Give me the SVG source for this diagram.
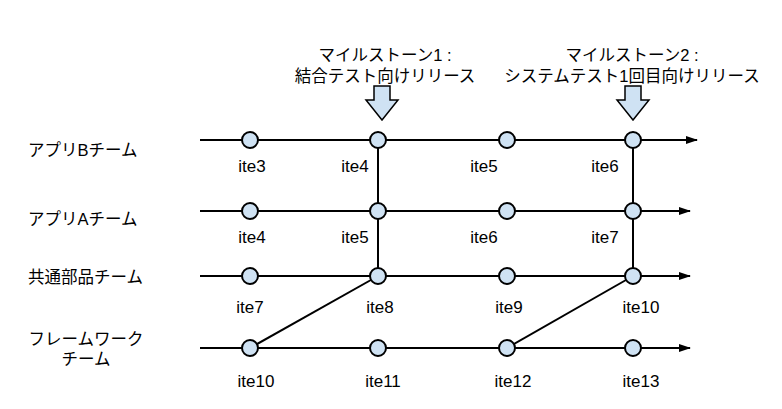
<svg xmlns="http://www.w3.org/2000/svg" width="782" height="409" viewBox="0 0 782 409">
<defs><marker id="ah" markerWidth="12" markerHeight="8" refX="11" refY="4" orient="auto" markerUnits="userSpaceOnUse"><path d="M0,0 L12,4 L0,8 z" fill="#000"/></marker></defs>
<style>
text{font-family:"Liberation Sans","Noto Sans CJK JP",sans-serif;font-size:16.5px;fill:#000}
.i{font-size:17px}
.n{fill:#cfe2f3;stroke:#000;stroke-width:2}
.l{stroke:#000;stroke-width:2;fill:none}
.ar{fill:#cfe2f3;stroke:#000;stroke-width:1.5}
</style>
<rect width="782" height="409" fill="#fff"/>
<g id="connectors">
<line class="l" x1="200" y1="140" x2="697" y2="140" marker-end="url(#ah)"/>
<line class="l" x1="200" y1="211" x2="690" y2="211" marker-end="url(#ah)"/>
<line class="l" x1="200" y1="276" x2="690" y2="276" marker-end="url(#ah)"/>
<line class="l" x1="200" y1="348" x2="690" y2="348" marker-end="url(#ah)"/>
<line class="l" x1="378" y1="140" x2="378" y2="276"/>
<line class="l" x1="633" y1="140" x2="633" y2="276"/>
<line class="l" x1="250" y1="348" x2="378" y2="276"/>
<line class="l" x1="507" y1="348" x2="633" y2="276"/>
</g>
<g id="milestone1"><path class="ar" d="M374,86 H390 V100 H398 L382,120 L366,100 H374 Z"/>
<text x="385" y="61" text-anchor="middle">マイルストーン1 :</text><text x="385" y="82" text-anchor="middle">結合テスト向けリリース</text></g>
<g id="milestone2"><path class="ar" d="M625,86 H641 V100 H649 L633,120 L617,100 H625 Z"/>
<text x="632" y="61" text-anchor="middle">マイルストーン2 :</text><text x="632" y="82" text-anchor="middle">システムテスト1回目向けリリース</text></g>
<g id="teams">
<text x="28" y="156">アプリBチーム</text>
<text x="28" y="225">アプリAチーム</text>
<text x="28" y="283">共通部品チーム</text>
<text x="86" y="345" text-anchor="middle">フレームワーク</text>
<text x="86" y="365" text-anchor="middle">チーム</text>
</g>
<g id="nodes">
<g id="r1"><circle class="n" cx="250" cy="140" r="8"/><circle class="n" cx="378" cy="140" r="8"/><circle class="n" cx="507" cy="140" r="8"/><circle class="n" cx="633" cy="140" r="8"/></g>
<g id="r2"><circle class="n" cx="250" cy="211" r="8"/><circle class="n" cx="378" cy="211" r="8"/><circle class="n" cx="507" cy="211" r="8"/><circle class="n" cx="633" cy="211" r="8"/></g>
<g id="r3"><circle class="n" cx="250" cy="276" r="8"/><circle class="n" cx="378" cy="276" r="8"/><circle class="n" cx="507" cy="276" r="8"/><circle class="n" cx="633" cy="276" r="8"/></g>
<g id="r4"><circle class="n" cx="250" cy="348" r="8"/><circle class="n" cx="378" cy="348" r="8"/><circle class="n" cx="507" cy="348" r="8"/><circle class="n" cx="633" cy="348" r="8"/></g>
</g>
<g id="labels" text-anchor="middle">
<text class="i" x="252" y="172">ite3</text><text class="i" x="355" y="172">ite4</text><text class="i" x="484" y="172">ite5</text><text class="i" x="605" y="172">ite6</text>
<text class="i" x="252" y="243">ite4</text><text class="i" x="355" y="243">ite5</text><text class="i" x="484" y="243">ite6</text><text class="i" x="605" y="243">ite7</text>
<text class="i" x="250" y="313">ite7</text><text class="i" x="380" y="313">ite8</text><text class="i" x="509" y="313">ite9</text><text class="i" x="641" y="313">ite10</text>
<text class="i" x="256" y="387">ite10</text><text class="i" x="383" y="387">ite11</text><text class="i" x="513" y="387">ite12</text><text class="i" x="641" y="387">ite13</text>
</g>
</svg>
